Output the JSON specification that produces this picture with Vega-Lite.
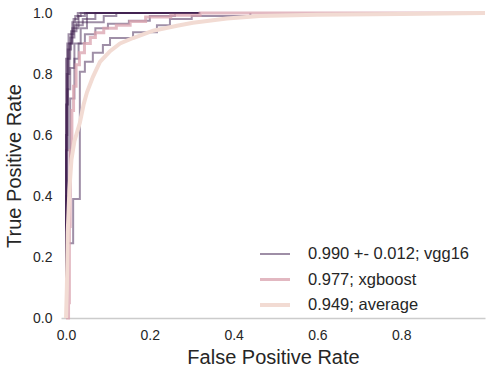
{
  "$schema": "https://vega.github.io/schema/vega-lite/v6.json",
  "width": 424,
  "height": 305,
  "autosize": "none",
  "padding": {"left": 61, "top": 13, "right": 17, "bottom": 55},
  "background": "white",
  "config": {
    "font": "Liberation Sans",
    "view": {"stroke": null},
    "axis": {"grid": false, "ticks": false, "labelColor": "#262626", "titleColor": "#262626", "labelFontSize": 14, "titleFontSize": 20, "titleFontWeight": "normal"}
  },
  "data": {"values": [
    {"model":"vgg16","fold":1,"i":0,"fpr":0,"tpr":0},{"model":"vgg16","fold":1,"i":1,"fpr":0,"tpr":0.245},{"model":"vgg16","fold":1,"i":2,"fpr":0.017,"tpr":0.245},{"model":"vgg16","fold":1,"i":3,"fpr":0.017,"tpr":0.39},{"model":"vgg16","fold":1,"i":4,"fpr":0.033,"tpr":0.39},{"model":"vgg16","fold":1,"i":5,"fpr":0.033,"tpr":0.807},{"model":"vgg16","fold":1,"i":6,"fpr":0.045,"tpr":0.807},{"model":"vgg16","fold":1,"i":7,"fpr":0.045,"tpr":0.84},{"model":"vgg16","fold":1,"i":8,"fpr":0.064,"tpr":0.84},{"model":"vgg16","fold":1,"i":9,"fpr":0.064,"tpr":0.87},{"model":"vgg16","fold":1,"i":10,"fpr":0.088,"tpr":0.87},{"model":"vgg16","fold":1,"i":11,"fpr":0.088,"tpr":0.895},{"model":"vgg16","fold":1,"i":12,"fpr":0.105,"tpr":0.895},{"model":"vgg16","fold":1,"i":13,"fpr":0.105,"tpr":0.918},{"model":"vgg16","fold":1,"i":14,"fpr":0.16,"tpr":0.918},{"model":"vgg16","fold":1,"i":15,"fpr":0.16,"tpr":0.937},{"model":"vgg16","fold":1,"i":16,"fpr":0.217,"tpr":0.937},{"model":"vgg16","fold":1,"i":17,"fpr":0.217,"tpr":0.96},{"model":"vgg16","fold":1,"i":18,"fpr":0.248,"tpr":0.96},{"model":"vgg16","fold":1,"i":19,"fpr":0.248,"tpr":0.98},{"model":"vgg16","fold":1,"i":20,"fpr":0.3,"tpr":0.98},{"model":"vgg16","fold":1,"i":21,"fpr":0.3,"tpr":0.99},{"model":"vgg16","fold":1,"i":22,"fpr":0.44,"tpr":0.99},{"model":"vgg16","fold":1,"i":23,"fpr":0.44,"tpr":1.0},

    {"model":"vgg16","fold":2,"i":0,"fpr":0,"tpr":0},{"model":"vgg16","fold":2,"i":1,"fpr":0,"tpr":0.7},{"model":"vgg16","fold":2,"i":2,"fpr":0.005,"tpr":0.7},{"model":"vgg16","fold":2,"i":3,"fpr":0.005,"tpr":0.85},{"model":"vgg16","fold":2,"i":4,"fpr":0.01,"tpr":0.85},{"model":"vgg16","fold":2,"i":5,"fpr":0.01,"tpr":0.92},{"model":"vgg16","fold":2,"i":6,"fpr":0.02,"tpr":0.92},{"model":"vgg16","fold":2,"i":7,"fpr":0.02,"tpr":0.96},{"model":"vgg16","fold":2,"i":8,"fpr":0.04,"tpr":0.96},{"model":"vgg16","fold":2,"i":9,"fpr":0.04,"tpr":0.98},{"model":"vgg16","fold":2,"i":10,"fpr":0.07,"tpr":0.98},{"model":"vgg16","fold":2,"i":11,"fpr":0.07,"tpr":1.0},{"model":"vgg16","fold":2,"i":12,"fpr":0.32,"tpr":1.0},

    {"model":"vgg16","fold":3,"i":0,"fpr":0,"tpr":0},{"model":"vgg16","fold":3,"i":1,"fpr":0,"tpr":0.2},{"model":"vgg16","fold":3,"i":2,"fpr":0.002,"tpr":0.2},{"model":"vgg16","fold":3,"i":3,"fpr":0.002,"tpr":0.8},{"model":"vgg16","fold":3,"i":4,"fpr":0.008,"tpr":0.8},{"model":"vgg16","fold":3,"i":5,"fpr":0.008,"tpr":0.9},{"model":"vgg16","fold":3,"i":6,"fpr":0.015,"tpr":0.9},{"model":"vgg16","fold":3,"i":7,"fpr":0.015,"tpr":0.95},{"model":"vgg16","fold":3,"i":8,"fpr":0.03,"tpr":0.95},{"model":"vgg16","fold":3,"i":9,"fpr":0.03,"tpr":0.99},{"model":"vgg16","fold":3,"i":10,"fpr":0.045,"tpr":0.99},{"model":"vgg16","fold":3,"i":11,"fpr":0.045,"tpr":1.0},{"model":"vgg16","fold":3,"i":12,"fpr":0.32,"tpr":1.0},

    {"model":"vgg16","fold":4,"i":0,"fpr":0,"tpr":0},{"model":"vgg16","fold":4,"i":1,"fpr":0,"tpr":0.55},{"model":"vgg16","fold":4,"i":2,"fpr":0.004,"tpr":0.55},{"model":"vgg16","fold":4,"i":3,"fpr":0.004,"tpr":0.88},{"model":"vgg16","fold":4,"i":4,"fpr":0.012,"tpr":0.88},{"model":"vgg16","fold":4,"i":5,"fpr":0.012,"tpr":0.94},{"model":"vgg16","fold":4,"i":6,"fpr":0.025,"tpr":0.94},{"model":"vgg16","fold":4,"i":7,"fpr":0.025,"tpr":0.97},{"model":"vgg16","fold":4,"i":8,"fpr":0.05,"tpr":0.97},{"model":"vgg16","fold":4,"i":9,"fpr":0.05,"tpr":1.0},{"model":"vgg16","fold":4,"i":10,"fpr":0.32,"tpr":1.0},

    {"model":"vgg16","fold":5,"i":0,"fpr":0,"tpr":0},{"model":"vgg16","fold":5,"i":1,"fpr":0,"tpr":0.85},{"model":"vgg16","fold":5,"i":2,"fpr":0.006,"tpr":0.85},{"model":"vgg16","fold":5,"i":3,"fpr":0.006,"tpr":0.93},{"model":"vgg16","fold":5,"i":4,"fpr":0.018,"tpr":0.93},{"model":"vgg16","fold":5,"i":5,"fpr":0.018,"tpr":0.98},{"model":"vgg16","fold":5,"i":6,"fpr":0.028,"tpr":0.98},{"model":"vgg16","fold":5,"i":7,"fpr":0.028,"tpr":1.0},{"model":"vgg16","fold":5,"i":8,"fpr":0.32,"tpr":1.0},

    {"model":"vgg16","fold":6,"i":0,"fpr":0,"tpr":0},{"model":"vgg16","fold":6,"i":1,"fpr":0,"tpr":0.4},{"model":"vgg16","fold":6,"i":2,"fpr":0.01,"tpr":0.4},{"model":"vgg16","fold":6,"i":3,"fpr":0.01,"tpr":0.72},{"model":"vgg16","fold":6,"i":4,"fpr":0.02,"tpr":0.72},{"model":"vgg16","fold":6,"i":5,"fpr":0.02,"tpr":0.85},{"model":"vgg16","fold":6,"i":6,"fpr":0.03,"tpr":0.85},{"model":"vgg16","fold":6,"i":7,"fpr":0.03,"tpr":0.9},{"model":"vgg16","fold":6,"i":8,"fpr":0.045,"tpr":0.9},{"model":"vgg16","fold":6,"i":9,"fpr":0.045,"tpr":0.93},{"model":"vgg16","fold":6,"i":10,"fpr":0.07,"tpr":0.93},{"model":"vgg16","fold":6,"i":11,"fpr":0.07,"tpr":0.95},{"model":"vgg16","fold":6,"i":12,"fpr":0.1,"tpr":0.95},{"model":"vgg16","fold":6,"i":13,"fpr":0.1,"tpr":0.965},{"model":"vgg16","fold":6,"i":14,"fpr":0.15,"tpr":0.965},{"model":"vgg16","fold":6,"i":15,"fpr":0.15,"tpr":0.975},{"model":"vgg16","fold":6,"i":16,"fpr":0.2,"tpr":0.975},{"model":"vgg16","fold":6,"i":17,"fpr":0.2,"tpr":0.99},{"model":"vgg16","fold":6,"i":18,"fpr":0.26,"tpr":0.99},{"model":"vgg16","fold":6,"i":19,"fpr":0.26,"tpr":1.0},{"model":"vgg16","fold":6,"i":20,"fpr":0.32,"tpr":1.0},

    {"model":"vgg16","fold":7,"i":0,"fpr":0,"tpr":0},{"model":"vgg16","fold":7,"i":1,"fpr":0,"tpr":0.6},{"model":"vgg16","fold":7,"i":2,"fpr":0.003,"tpr":0.6},{"model":"vgg16","fold":7,"i":3,"fpr":0.003,"tpr":0.9},{"model":"vgg16","fold":7,"i":4,"fpr":0.015,"tpr":0.9},{"model":"vgg16","fold":7,"i":5,"fpr":0.015,"tpr":0.97},{"model":"vgg16","fold":7,"i":6,"fpr":0.022,"tpr":0.97},{"model":"vgg16","fold":7,"i":7,"fpr":0.022,"tpr":0.99},{"model":"vgg16","fold":7,"i":8,"fpr":0.035,"tpr":0.99},{"model":"vgg16","fold":7,"i":9,"fpr":0.035,"tpr":1.0},{"model":"vgg16","fold":7,"i":10,"fpr":0.32,"tpr":1.0},

    {"model":"vgg16","fold":8,"i":0,"fpr":0,"tpr":0},{"model":"vgg16","fold":8,"i":1,"fpr":0,"tpr":0.25},{"model":"vgg16","fold":8,"i":2,"fpr":0.003,"tpr":0.25},{"model":"vgg16","fold":8,"i":3,"fpr":0.003,"tpr":0.75},{"model":"vgg16","fold":8,"i":4,"fpr":0.01,"tpr":0.75},{"model":"vgg16","fold":8,"i":5,"fpr":0.01,"tpr":0.82},{"model":"vgg16","fold":8,"i":6,"fpr":0.02,"tpr":0.82},{"model":"vgg16","fold":8,"i":7,"fpr":0.02,"tpr":0.9},{"model":"vgg16","fold":8,"i":8,"fpr":0.035,"tpr":0.9},{"model":"vgg16","fold":8,"i":9,"fpr":0.035,"tpr":0.95},{"model":"vgg16","fold":8,"i":10,"fpr":0.05,"tpr":0.95},{"model":"vgg16","fold":8,"i":11,"fpr":0.05,"tpr":0.97},{"model":"vgg16","fold":8,"i":12,"fpr":0.09,"tpr":0.97},{"model":"vgg16","fold":8,"i":13,"fpr":0.09,"tpr":0.99},{"model":"vgg16","fold":8,"i":14,"fpr":0.12,"tpr":0.99},{"model":"vgg16","fold":8,"i":15,"fpr":0.12,"tpr":1.0},{"model":"vgg16","fold":8,"i":16,"fpr":0.32,"tpr":1.0},

    {"model":"xgboost","fold":0,"i":0,"fpr":0,"tpr":0},{"model":"xgboost","fold":0,"i":1,"fpr":0.006,"tpr":0},{"model":"xgboost","fold":0,"i":2,"fpr":0.006,"tpr":0.05},{"model":"xgboost","fold":0,"i":3,"fpr":0.008,"tpr":0.05},{"model":"xgboost","fold":0,"i":4,"fpr":0.008,"tpr":0.3},{"model":"xgboost","fold":0,"i":5,"fpr":0.01,"tpr":0.3},{"model":"xgboost","fold":0,"i":6,"fpr":0.01,"tpr":0.55},{"model":"xgboost","fold":0,"i":7,"fpr":0.014,"tpr":0.55},{"model":"xgboost","fold":0,"i":8,"fpr":0.014,"tpr":0.68},{"model":"xgboost","fold":0,"i":9,"fpr":0.018,"tpr":0.68},{"model":"xgboost","fold":0,"i":10,"fpr":0.018,"tpr":0.76},{"model":"xgboost","fold":0,"i":11,"fpr":0.024,"tpr":0.76},{"model":"xgboost","fold":0,"i":12,"fpr":0.024,"tpr":0.83},{"model":"xgboost","fold":0,"i":13,"fpr":0.032,"tpr":0.83},{"model":"xgboost","fold":0,"i":14,"fpr":0.032,"tpr":0.87},{"model":"xgboost","fold":0,"i":15,"fpr":0.044,"tpr":0.87},{"model":"xgboost","fold":0,"i":16,"fpr":0.044,"tpr":0.9},{"model":"xgboost","fold":0,"i":17,"fpr":0.058,"tpr":0.9},{"model":"xgboost","fold":0,"i":18,"fpr":0.058,"tpr":0.92},{"model":"xgboost","fold":0,"i":19,"fpr":0.07,"tpr":0.92},{"model":"xgboost","fold":0,"i":20,"fpr":0.07,"tpr":0.935},{"model":"xgboost","fold":0,"i":21,"fpr":0.09,"tpr":0.935},{"model":"xgboost","fold":0,"i":22,"fpr":0.09,"tpr":0.95},{"model":"xgboost","fold":0,"i":23,"fpr":0.12,"tpr":0.95},{"model":"xgboost","fold":0,"i":24,"fpr":0.12,"tpr":0.96},{"model":"xgboost","fold":0,"i":25,"fpr":0.153,"tpr":0.96},{"model":"xgboost","fold":0,"i":26,"fpr":0.153,"tpr":0.972},{"model":"xgboost","fold":0,"i":27,"fpr":0.19,"tpr":0.972},{"model":"xgboost","fold":0,"i":28,"fpr":0.19,"tpr":0.987},{"model":"xgboost","fold":0,"i":29,"fpr":0.25,"tpr":0.987},{"model":"xgboost","fold":0,"i":30,"fpr":0.25,"tpr":0.993},{"model":"xgboost","fold":0,"i":31,"fpr":0.32,"tpr":0.993},{"model":"xgboost","fold":0,"i":32,"fpr":0.32,"tpr":1.0},{"model":"xgboost","fold":0,"i":33,"fpr":1.0,"tpr":1.0},

    {"model":"average","fold":0,"i":0,"fpr":0,"tpr":0},{"model":"average","fold":0,"i":1,"fpr":0.002,"tpr":0.1},{"model":"average","fold":0,"i":2,"fpr":0.004,"tpr":0.28},{"model":"average","fold":0,"i":3,"fpr":0.008,"tpr":0.42},{"model":"average","fold":0,"i":4,"fpr":0.013,"tpr":0.52},{"model":"average","fold":0,"i":5,"fpr":0.02,"tpr":0.58},{"model":"average","fold":0,"i":6,"fpr":0.033,"tpr":0.64},{"model":"average","fold":0,"i":7,"fpr":0.042,"tpr":0.7},{"model":"average","fold":0,"i":8,"fpr":0.05,"tpr":0.74},{"model":"average","fold":0,"i":9,"fpr":0.064,"tpr":0.79},{"model":"average","fold":0,"i":10,"fpr":0.081,"tpr":0.84},{"model":"average","fold":0,"i":11,"fpr":0.105,"tpr":0.875},{"model":"average","fold":0,"i":12,"fpr":0.129,"tpr":0.9},{"model":"average","fold":0,"i":13,"fpr":0.16,"tpr":0.918},{"model":"average","fold":0,"i":14,"fpr":0.208,"tpr":0.942},{"model":"average","fold":0,"i":15,"fpr":0.265,"tpr":0.958},{"model":"average","fold":0,"i":16,"fpr":0.303,"tpr":0.968},{"model":"average","fold":0,"i":17,"fpr":0.384,"tpr":0.982},{"model":"average","fold":0,"i":18,"fpr":0.463,"tpr":0.99},{"model":"average","fold":0,"i":19,"fpr":0.6,"tpr":0.994},{"model":"average","fold":0,"i":20,"fpr":0.8,"tpr":0.997},{"model":"average","fold":0,"i":21,"fpr":1.0,"tpr":1.0}
  ]},
  "mark": {"type": "line"},
  "encoding": {
    "x": {"field": "fpr", "type": "quantitative", "title": "False Positive Rate",
      "scale": {"domain": [-0.012, 1.0], "nice": false, "zero": false},
      "axis": {"values": [0, 0.2, 0.4, 0.6, 0.8], "format": ".1f", "domainColor": "#cccccc", "domainWidth": 1.5, "labelPadding": 10, "titlePadding": 5}},
    "y": {"field": "tpr", "type": "quantitative", "title": "True Positive Rate",
      "scale": {"domain": [0, 1], "nice": false},
      "axis": {"values": [0, 0.2, 0.4, 0.6, 0.8, 1.0], "format": ".1f", "domain": false, "labelPadding": 9, "titlePadding": 8}},
    "detail": {"field": "fold", "type": "nominal"},
    "order": {"field": "i", "type": "quantitative"},
    "color": {"field": "model", "type": "ordinal", "title": null,
      "scale": {"domain": ["vgg16", "xgboost", "average"], "range": ["#40204f", "#d9a1ad", "#f2dbd3"]},
      "legend": {"orient": "none", "legendX": 197, "legendY": 225, "symbolType": "stroke", "symbolSize": 900, "rowPadding": -7, "labelFontSize": 16.5, "labelLimit": 400, "labelColor": "#262626", "labelOffset": 16, "labelExpr": "datum.label == 'vgg16' ? '0.990 +- 0.012; vgg16' : datum.label == 'xgboost' ? '0.977; xgboost' : '0.949; average'"}},
    "strokeWidth": {"field": "model", "type": "ordinal", "title": null,
      "scale": {"domain": ["vgg16", "xgboost", "average"], "range": [2, 4, 4]}},
    "opacity": {"field": "model", "type": "ordinal", "title": null,
      "scale": {"domain": ["vgg16", "xgboost", "average"], "range": [0.5, 1, 1]}}
  }
}
